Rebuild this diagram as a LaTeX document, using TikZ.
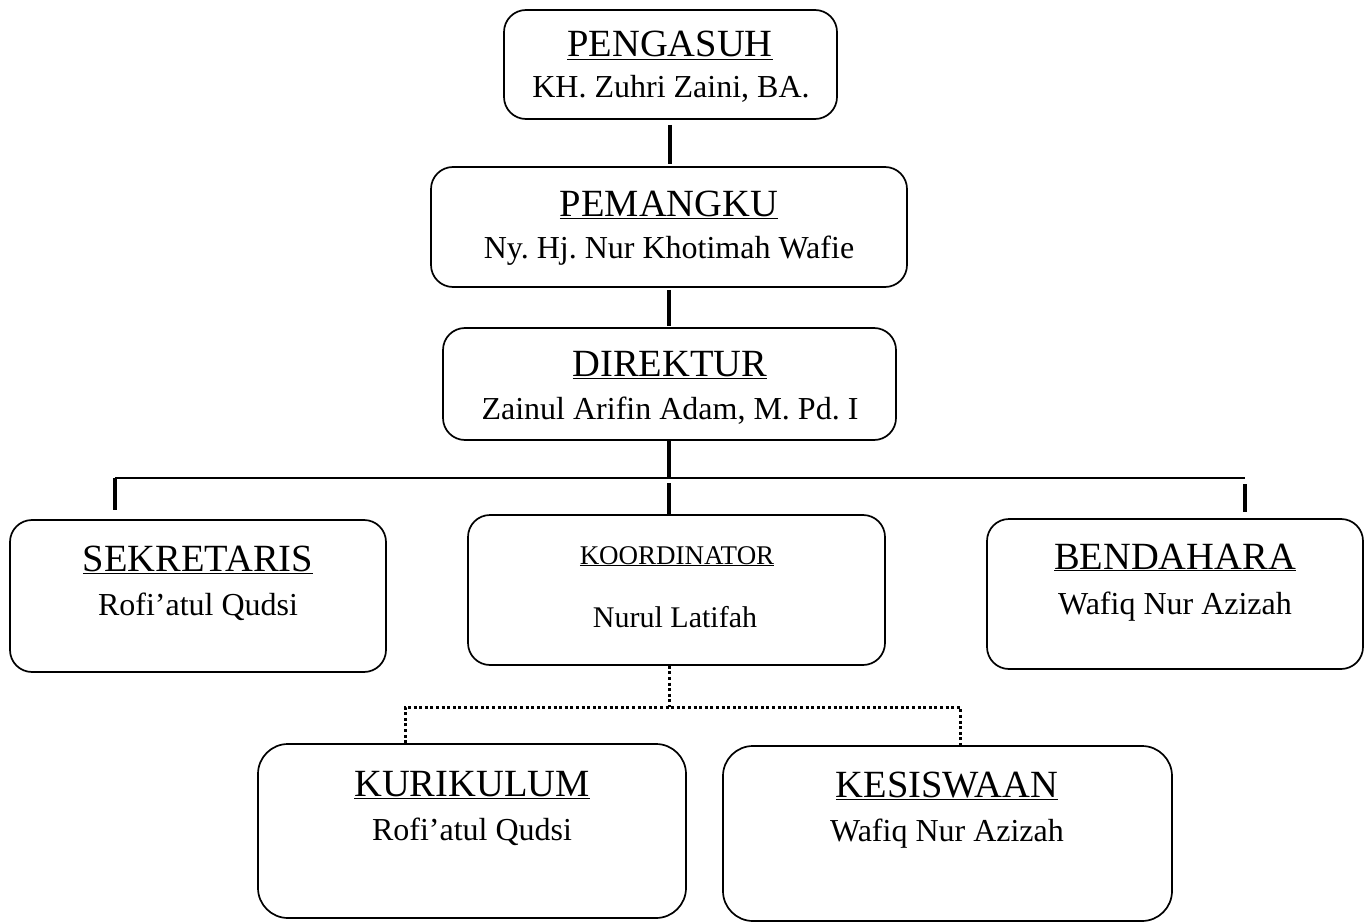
\documentclass[tikz,border=0pt]{standalone}
\usepackage{fontspec}
\setmainfont{Liberation Serif}
\frenchspacing
\begin{document}
\begin{tikzpicture}[x=1pt,y=-1pt,
  box/.style={draw, line width=1.7pt, rounded corners=22pt, inner sep=0pt},
  tlbl/.style={anchor=base, inner sep=0pt, font=\fontsize{38.5}{44}\selectfont},
  lbl/.style={anchor=base, inner sep=0pt, font=\fontsize{32}{38}\selectfont},
  stlbl/.style={anchor=base, inner sep=0pt, font=\fontsize{27}{32}\selectfont},
  slbl/.style={anchor=base, inner sep=0pt, font=\fontsize{30}{35}\selectfont},
  thick line/.style={line width=3.4pt},
  thin line/.style={line width=1.6pt},
  dotline/.style={line width=3pt, dash pattern=on 3pt off 2.6pt}]
\useasboundingbox (0,0) rectangle (1366,923);
% boxes
\node[box, minimum width=333pt, minimum height=109pt] (peng) at (670.5,64.5) {};
\node[box, minimum width=476pt, minimum height=120pt] (pem) at (669,227) {};
\node[box, minimum width=453pt, minimum height=112pt] (dir) at (669.5,384) {};
\node[box, minimum width=376pt, minimum height=152pt] (sek) at (198,596) {};
\node[box, minimum width=417pt, minimum height=150pt] (koor) at (676.5,590) {};
\node[box, minimum width=376pt, minimum height=150pt] (bend) at (1175,594) {};
\node[box, rounded corners=30pt, minimum width=428pt, minimum height=174pt] (kur) at (472,831) {};
\node[box, rounded corners=30pt, minimum width=449pt, minimum height=175pt] (kes) at (947.5,833.5) {};
% texts
\node[tlbl] (t1) at (670,57) {\underline{PENGASUH}};
\node[lbl] (n1) at (671,98) {KH. Zuhri Zaini, BA.};
\node[tlbl] (t2) at (669,216) {\underline{PEMANGKU}};
\node[lbl] (n2) at (669,258) {Ny. Hj. Nur Khotimah Wafie};
\node[tlbl] (t3) at (670,376) {\underline{DIREKTUR}};
\node[lbl] (n3) at (670,419) {Zainul Arifin Adam, M. Pd. I};
\node[tlbl] (t4) at (198,571) {\underline{SEKRETARIS}};
\node[lbl] (n4) at (198,615) {Rofi’atul Qudsi};
\node[stlbl] (t5) at (677,564) {\underline{KOORDINATOR}};
\node[slbl] (n5) at (675,627) {Nurul Latifah};
\node[tlbl] (t6) at (1175,569) {\underline{BENDAHARA}};
\node[lbl] (n6) at (1175,614) {Wafiq Nur Azizah};
\node[tlbl] (t7) at (472,796) {\underline{KURIKULUM}};
\node[lbl] (n7) at (472,840) {Rofi’atul Qudsi};
\node[tlbl] (t8) at (947,797) {\underline{KESISWAAN}};
\node[lbl] (n8) at (947,841) {Wafiq Nur Azizah};
% connector coordinates
\coordinate (hL) at (115,478);
\coordinate (hR) at (1245,478);
\coordinate (hM) at (669,478);
\coordinate (dM) at (669,707);
\coordinate (dL) at (405,707);
\coordinate (dR) at (960,707);
% solid connectors
\draw[thick line] (peng.south -| 670,0) ++(0,5) -- (670,164);
\draw[thick line] (pem.south -| 669,0) ++(0,2) -- (669,326);
\draw[thick line] (dir.south -| 669,0) -- (hM);
\draw[thin line] (hL) -- (hR);
\draw[thick line] (hL) -- (115,510);
\draw[thick line] (669,483) -- (koor.north -| 669,0);
\draw[thick line] (1245,484) -- (1245,512);
% dotted connectors
\draw[dotline] (koor.south -| dM) -- (dM);
\draw[dotline] (kur.north -| dL) -- (dL) -- (dR) -- (kes.north -| dR);
\end{tikzpicture}
\end{document}
